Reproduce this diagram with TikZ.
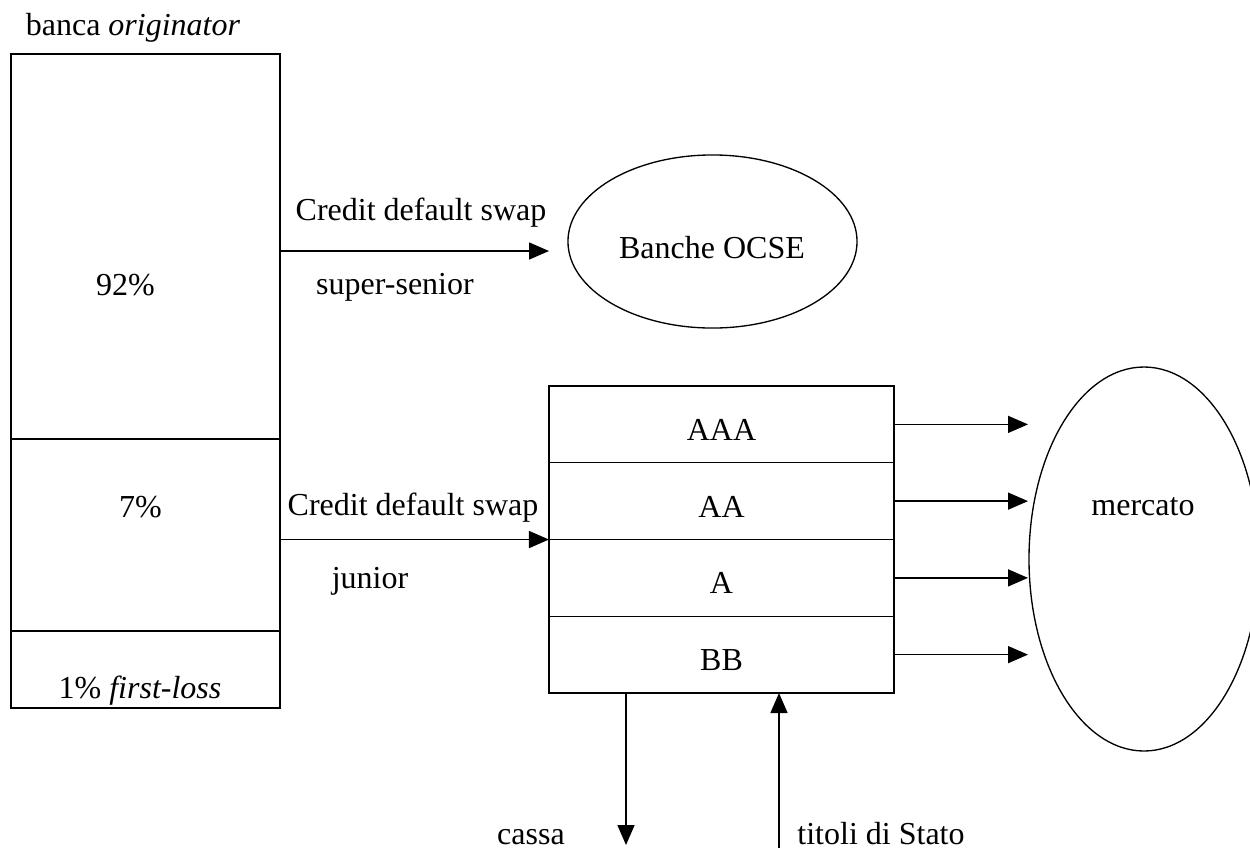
\documentclass[tikz,border=0pt]{standalone}
\usepackage{fontspec}
\setmainfont{Liberation Serif}
\usetikzlibrary{arrows.meta,shapes.geometric}

\tikzset{
  txt/.style={inner sep=0pt, font=\fontsize{12pt}{14.4pt}\selectfont},
  tranche/.style={draw, line width=0.5pt, rectangle, inner sep=0pt, outer sep=0pt},
  party/.style={draw, line width=0.5pt, ellipse, inner sep=0pt, outer sep=0pt},
  flow/.style={line width=0.5pt, -{Triangle[length=7.5pt,width=6.4pt]}}
}

\begin{document}
\begin{tikzpicture}[x=0.375pt,y=0.375pt,yscale=-1,xscale=1]
		% Set diagram size: 1250 wide, 847 high
		\clip (0,0) rectangle (1250,847);

		% Draw the three tranches of the originator's portfolio
		\node[tranche, minimum width=100.9pt, minimum height=144.4pt] (senior) at (145.5,246.5) {};
		\node[tranche, minimum width=100.9pt, minimum height=72pt] (mezz) at (145.5,535) {};
		\node[tranche, minimum width=100.9pt, minimum height=28.9pt] (firstloss) at (145.5,669.5) {};

		% Text of the originator and of its tranches
		\node[txt, anchor=base] (bank) at (133,35) {banca \textit{originator}};
		\node[txt, anchor=base] (pctsenior) at (125.5,295) {92\%};
		\node[txt, anchor=base] (pctmezz) at (140.5,517) {7\%};
		\node[txt, anchor=base] (pctfirst) at (140,698) {1\% \textit{first-loss}};

		% Draw the rows of the vehicle, one for each rating
		\foreach \rating [count=\i] in {AAA,AA,A,BB}{
		\node[tranche, minimum width=129.4pt, minimum height=28.8pt] (r\i) at (721.5,{386+76.75*\i-38.375}) {};
		\node[txt] (r\i txt) at ([yshift=2pt]r\i.center) {\rating};
		}

		% The OECD banks and the super-senior swap
		\node[party, minimum width=108.4pt, minimum height=64.9pt] (ocse) at (712.5,241.5) {};
		\node[txt, anchor=base] (ocsetxt) at (712,258) {Banche OCSE};
		\coordinate (cdssenior) at (549,251);
		\draw[flow] (senior.east |- cdssenior) -- (cdssenior);
		\node[txt, anchor=base] (cdsseniortxt) at (421,220) {Credit default swap};
		\node[txt, anchor=base] (supersenior) at (395,294) {super-senior};

		% The junior swap into the vehicle
		\draw[flow] (mezz.east |- r2.south west) -- (r2.south west);
		\node[txt, anchor=base] (cdsjuniortxt) at (413,515) {Credit default swap};
		\node[txt, anchor=base] (junior) at (370,588) {junior};

		% The market and the arrows from each row
		\node[party, minimum width=86.25pt, minimum height=144pt] (market) at (1144,559) {};
		\node[txt, anchor=base] (markettxt) at (1143,515) {mercato};
		\coordinate (mktin) at (1028,559);
		\foreach \i in {1,...,4}
		\draw[flow] (r\i.east) -- (r\i.east -| mktin);

		% Cash out and government bonds in, below the vehicle
		\coordinate (cash) at (626,845);
		\draw[flow] (r4.south -| cash) -- (cash);
		\node[txt, anchor=base] (cashtxt) at (531,844) {cassa};
		\coordinate (govt) at (779,850);
		\draw[flow] (govt) -- (govt |- r4.south);
		\node[txt, anchor=base] (govttxt) at (881,844) {titoli di Stato};
	\end{tikzpicture}
\end{document}
